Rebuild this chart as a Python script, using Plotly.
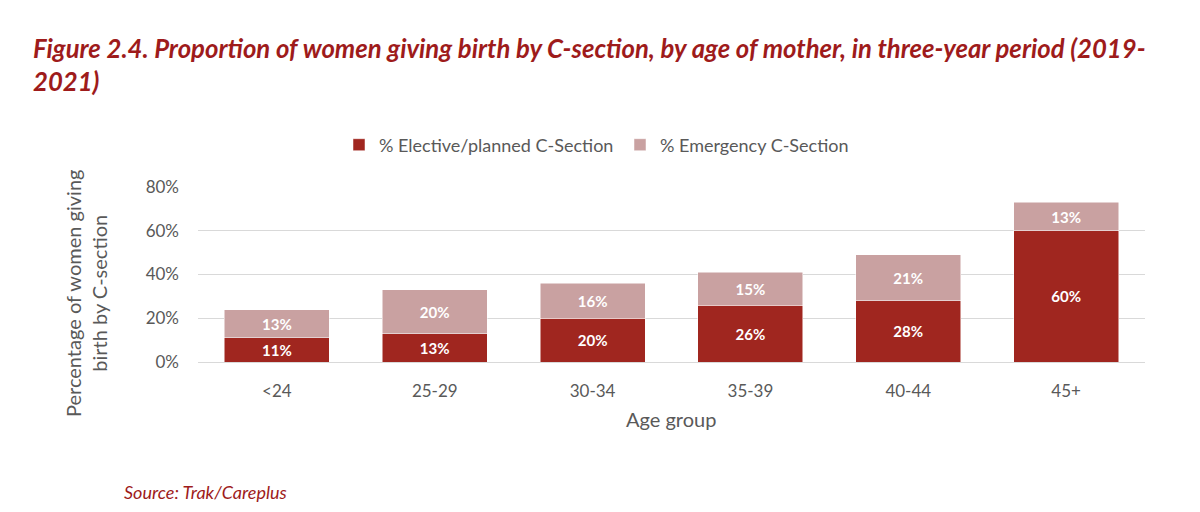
import plotly.graph_objects as go

categories = ["<24", "25-29", "30-34", "35-39", "40-44", "45+"]
elective = [11, 13, 20, 26, 28, 60]
emergency = [13, 20, 16, 15, 21, 13]
y_ticks = [0, 20, 40, 60, 80]
y_tick_labels = ["0%", "20%", "40%", "60%", "80%"]

DARK = "#A0261F"
LIGHT = "#C9A1A1"
TITLE_RED = "#9E1B1B"
GRAY = "#595959"
FONT = "Lato"

# page offset of 8px (body margin)
OFF = 8
W, H = 1200 - 2 * OFF, 512 - 2 * OFF
L, T = 198 - OFF, 187 - OFF
R = W - (1145 - OFF)
B = H - (362 - OFF)
pw, ph = W - L - R, H - T - B

def px_x(x):
    return (x - OFF - L) / pw

def px_y(y):
    return (H - B - (y - OFF)) / ph

fig = go.Figure()
fig.add_trace(go.Bar(
    x=categories, y=elective, name="% Elective/planned C-Section",
    marker=dict(color=DARK, line=dict(color="white", width=0.5)),
    text=[f"<b>{v}%</b>" for v in elective], textposition="inside", insidetextanchor="middle",
    textfont=dict(color="white", size=20, family=FONT),
))
fig.add_trace(go.Bar(
    x=categories, y=emergency, name="% Emergency C-Section",
    marker=dict(color=LIGHT, line=dict(color="white", width=0.5)),
    text=[f"<b>{v}%</b>" for v in emergency], textposition="inside", insidetextanchor="middle",
    textfont=dict(color="white", size=20, family=FONT),
))

fig.update_layout(
    width=W, height=H,
    barmode="stack", bargap=0.335,
    plot_bgcolor="white", paper_bgcolor="white",
    margin=dict(l=L, r=R, t=T, b=B),
    font=dict(family=FONT, color=GRAY, size=17),
    uniformtext=dict(minsize=14, mode="show"),
    title=dict(
        text="<b><i>Figure 2.4. Proportion of women giving birth by C-section, by age of mother, in three-year period (2019-<br>2021)</i></b>",
        x=(33 - OFF) / W, xanchor="left", xref="container",
        y=1 - 50 / H, yanchor="top", yref="container",
        font=dict(family=FONT, size=25.7, color=TITLE_RED),
    ),
    legend=dict(
        orientation="h", xref="container", yref="container",
        x=(620 - OFF) / W, xanchor="center", y=1 - (145 - OFF) / H, yanchor="middle",
        font=dict(size=18, color=GRAY, family=FONT), traceorder="normal",
        itemwidth=30, entrywidth=236, entrywidthmode="pixels",
    ),
    showlegend=True,
)
fig.update_xaxes(showgrid=False, showline=True, linecolor="#D9D9D9", linewidth=1,
                 ticks="", tickfont=dict(size=17, color=GRAY), ticklabelstandoff=14)
fig.update_yaxes(range=[0, 80], tickvals=y_ticks, ticktext=y_tick_labels,
                 showgrid=True, gridcolor="#D9D9D9", gridwidth=1, zeroline=False,
                 ticks="", tickfont=dict(size=17, color=GRAY), ticklabelstandoff=18)

fig.add_annotation(text="Percentage of women giving<br>birth by C-section", textangle=-90,
                   xref="paper", yref="paper", x=px_x(86), y=px_y(294),
                   xanchor="center", yanchor="middle",
                   showarrow=False, font=dict(size=20, color=GRAY, family=FONT))
fig.add_annotation(text="Age group", xref="paper", yref="paper", x=px_x(671), y=px_y(419),
                   xanchor="center", yanchor="middle",
                   showarrow=False, font=dict(size=20, color=GRAY, family=FONT))
fig.add_annotation(text="<i>Source: Trak/Careplus</i>", xref="paper", yref="paper",
                   x=px_x(122), y=px_y(492), xanchor="left", yanchor="middle",
                   showarrow=False, font=dict(size=18, color=TITLE_RED, family=FONT))

fig.write_html("out.html")
